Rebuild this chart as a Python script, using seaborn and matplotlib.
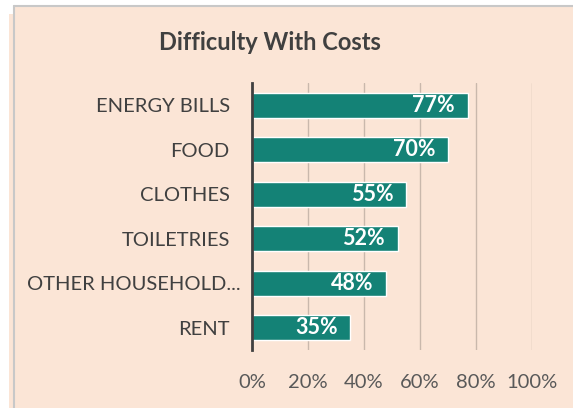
import matplotlib
matplotlib.use("Agg")
import matplotlib.pyplot as plt
import matplotlib.transforms as mtransforms
import seaborn as sns
import pandas as pd
from matplotlib.patches import Rectangle
from matplotlib.lines import Line2D

categories = ["ENERGY BILLS", "FOOD", "CLOTHES", "TOILETRIES", "OTHER HOUSEHOLD...", "RENT"]
values = [77, 70, 55, 52, 48, 35]
xticks = [0, 20, 40, 60, 80, 100]
xtick_labels = ["0%", "20%", "40%", "60%", "80%", "100%"]
title = "Difficulty With Costs"

df = pd.DataFrame({"category": categories, "value": values})

PEACH = "#FBE5D6"
TEAL = "#148276"
DARK = "#404040"

sns.set_theme(style="white")
plt.rcParams["font.family"] = ["Lato", "DejaVu Sans"]

W, H = 573, 408
fig = plt.figure(figsize=(W / 100, H / 100), dpi=100)
fig.patch.set_facecolor("white")
# panel background and frame
fig.patches.append(Rectangle((9 / W, 0), 1, (H - 14) / H, transform=fig.transFigure,
                             facecolor=PEACH, edgecolor="none", zorder=-3))
fig.patches.append(Rectangle((14 / W, 0), 1, (H - 6) / H, transform=fig.transFigure,
                             facecolor=PEACH, edgecolor="none", zorder=-2))
fig.lines.append(Line2D([14 / W, 14 / W], [0, (H - 6) / H], transform=fig.transFigure,
                        color="#C8C8C8", lw=1.5))
fig.lines.append(Line2D([14 / W, 1], [(H - 6) / H, (H - 6) / H], transform=fig.transFigure,
                        color="#C8C8C8", lw=1.5))

ax = fig.add_axes([252 / W, 58 / H, 280 / W, 267 / H])
ax.set_facecolor("none")

sns.barplot(data=df, x="value", y="category", orient="h", color=TEAL,
            width=0.57, saturation=1, ax=ax, zorder=3)

ax.set_xlim(0, 100)
ax.set_ylim(5.5, -0.5)
ax.set_xticks(xticks)
ax.set_xticklabels(xtick_labels)
ax.set_xlabel("")
ax.set_ylabel("")
ax.xaxis.grid(True, color="#C9B8AC", lw=1)
ax.set_axisbelow(True)
for s in ["top", "right", "bottom"]:
    ax.spines[s].set_visible(False)
ax.spines["left"].set_color(DARK)
ax.spines["left"].set_linewidth(2)
ax.spines["left"].set_zorder(5)
ax.tick_params(axis="x", length=0, pad=17, labelsize=14.5, labelcolor="#595959")
ax.tick_params(axis="y", length=0, pad=16, labelsize=14.5, labelcolor=DARK)

# the truncated label sits a little further right, as in the source
for lab in ax.get_yticklabels():
    if lab.get_text().endswith("..."):
        lab.set_transform(lab.get_transform() +
                          mtransforms.ScaledTranslation(11 / 100, 0, fig.dpi_scale_trans))

for i, v in enumerate(values):
    ax.annotate(f"{v}%", xy=(v, i), xytext=(-9, 0), textcoords="offset points",
                ha="right", va="center", color="white", fontsize=15.5,
                fontweight="bold", zorder=6)

fig.text(270 / W, 1 - 42 / H, title, ha="center", va="center", fontsize=17,
         fontweight="bold", color=DARK)

fig.savefig("out.png", dpi=100, facecolor=fig.get_facecolor())
